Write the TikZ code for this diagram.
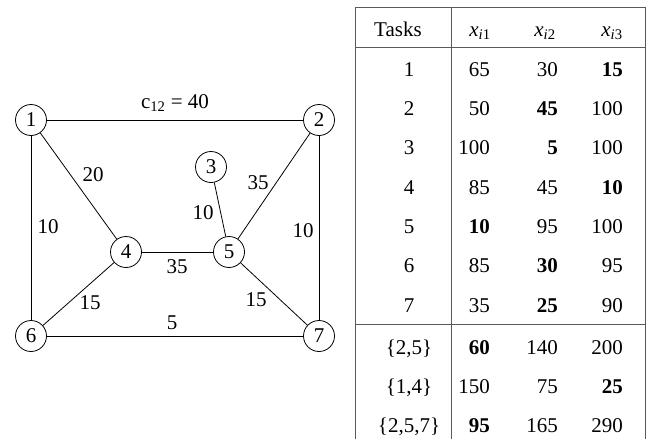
\documentclass[tikz,border=0pt]{standalone}
\usepackage{fontspec}
\setmainfont{Liberation Serif}
\usetikzlibrary{positioning}
\newcommand{\xsub}[1]{\textit{x}\textsubscript{\textit{i}#1}}
\tikzset{
  vtx/.style={draw, circle, minimum size=31pt, inner sep=0pt, line width=0.8pt},
  edge/.style={line width=0.8pt},
  wt/.style={inner sep=0pt},
  rule/.style={line width=1pt, black!65},
  hdr/.style={anchor=base, inner sep=0pt},
  task/.style={anchor=base, inner sep=0pt},
  num/.style={anchor=base east, inner sep=0pt}}

\begin{document}
\begin{tikzpicture}[x=1pt, y=-1pt, font=\fontsize{21}{24}\selectfont]
  \useasboundingbox (0,0) rectangle (655,439);
  % graph
  \node[vtx] (n1) at (31,120) {1};
  \node[vtx] (n2) at (319,120) {2};
  \node[vtx] (n3) at (211,167) {3};
  \node[vtx] (n4) at (126,252) {4};
  \node[vtx] (n5) at (229,252) {5};
  \node[vtx] (n6) at (31,336) {6};
  \node[vtx] (n7) at (319,336) {7};
  \draw[edge] (n1) -- (n2); \draw[edge] (n1) -- (n4); \draw[edge] (n1) -- (n6);
  \draw[edge] (n2) -- (n5); \draw[edge] (n2) -- (n7); \draw[edge] (n3) -- (n5);
  \draw[edge] (n4) -- (n5); \draw[edge] (n4) -- (n6); \draw[edge] (n5) -- (n7);
  \draw[edge] (n6) -- (n7);
  \node[wt, anchor=base] (w12) at (175,108) {c\textsubscript{12} = 40};
  \node[wt] (w14) at (93,175) {20};
  \node[wt] (w16) at (48,227) {10};
  \node[wt] (w35) at (203,213) {10};
  \node[wt] (w25) at (258,183) {35};
  \node[wt] (w27) at (303,231) {10};
  \node[wt] (w45) at (177,267) {35};
  \node[wt] (w46) at (90,303) {15};
  \node[wt] (w57) at (256,300) {15};
  \node[wt] (w67) at (172,323) {5};
  % table rules
  \draw[rule] (355,439) -- (355,7) -- (645,7) -- (645,439);
  \draw[rule] (451,7) -- (451,439);
  \draw[rule] (355,47) -- (645,47);
  \draw[rule] (355,324) -- (645,324);
  % header
  \node[hdr] (hT) at (398,36) {Tasks};
  \node[hdr] (h1) at (480,36) {\xsub{1}};
  \node[hdr] (h2) at (545,36) {\xsub{2}};
  \node[hdr] (h3) at (612,36) {\xsub{3}};
  % rows
  \node[task] (t1) at (409,76) {1}; \node[num] (a1) at (490,76) {65}; \node[num] (b1) at (558,76) {30}; \node[num] (c1) at (623,76) {\textbf{15}};
  \node[task] (t2) at (409,115.5) {2}; \node[num] (a2) at (490,115.5) {50}; \node[num] (b2) at (558,115.5) {\textbf{45}}; \node[num] (c2) at (623,115.5) {100};
  \node[task] (t3) at (409,154.5) {3}; \node[num] (a3) at (490,154.5) {100}; \node[num] (b3) at (558,154.5) {\textbf{5}}; \node[num] (c3) at (623,154.5) {100};
  \node[task] (t4) at (409,194) {4}; \node[num] (a4) at (490,194) {85}; \node[num] (b4) at (558,194) {45}; \node[num] (c4) at (623,194) {\textbf{10}};
  \node[task] (t5) at (409,233.5) {5}; \node[num] (a5) at (490,233.5) {\textbf{10}}; \node[num] (b5) at (558,233.5) {95}; \node[num] (c5) at (623,233.5) {100};
  \node[task] (t6) at (409,272.5) {6}; \node[num] (a6) at (490,272.5) {85}; \node[num] (b6) at (558,272.5) {\textbf{30}}; \node[num] (c6) at (623,272.5) {95};
  \node[task] (t7) at (409,312) {7}; \node[num] (a7) at (490,312) {35}; \node[num] (b7) at (558,312) {\textbf{25}}; \node[num] (c7) at (623,312) {90};
  \node[task] (t8) at (409,354) {\{2,5\}}; \node[num] (a8) at (490,354) {\textbf{60}}; \node[num] (b8) at (558,354) {140}; \node[num] (c8) at (623,354) {200};
  \node[task] (t9) at (409,393) {\{1,4\}}; \node[num] (a9) at (490,393) {150}; \node[num] (b9) at (558,393) {75}; \node[num] (c9) at (623,393) {\textbf{25}};
  \node[task] (t10) at (409,432) {\{2,5,7\}}; \node[num] (a10) at (490,432) {\textbf{95}}; \node[num] (b10) at (558,432) {165}; \node[num] (c10) at (623,432) {290};
\end{tikzpicture}
\end{document}
